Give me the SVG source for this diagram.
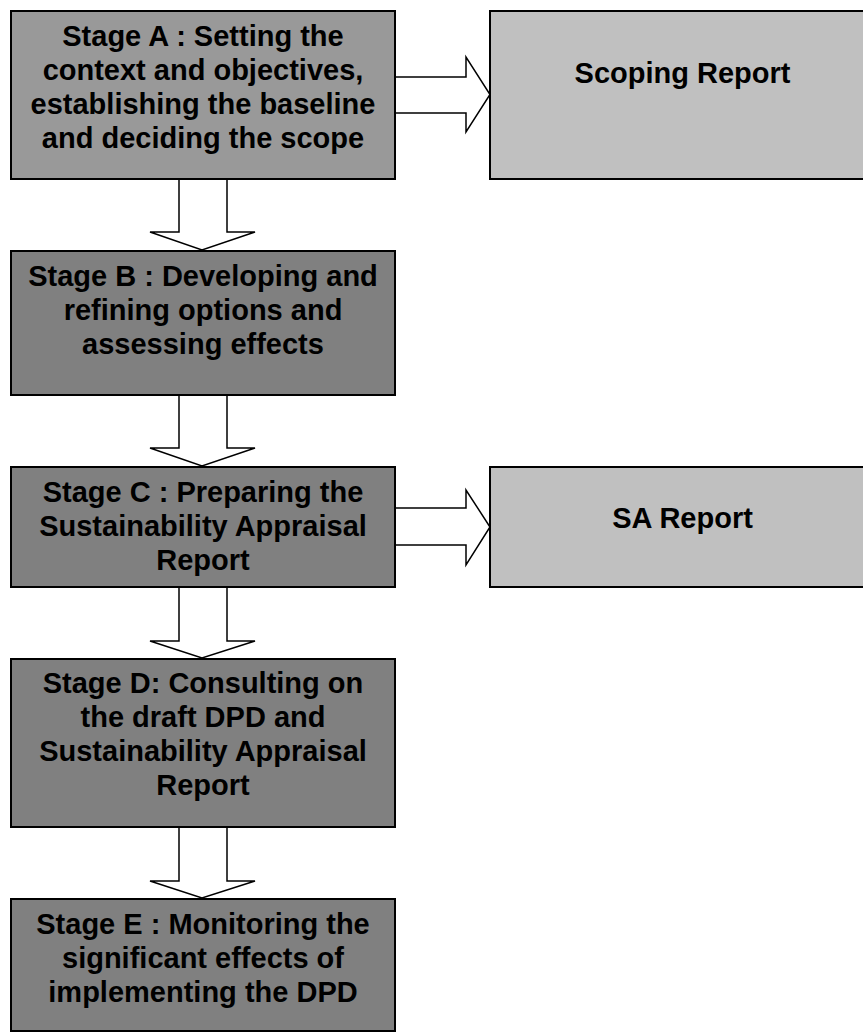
<svg xmlns="http://www.w3.org/2000/svg" width="863" height="1035" viewBox="0 0 863 1035">
<style>
.stage{fill:#808080;stroke:#000;stroke-width:2}
.stageA{fill:#999999;stroke:#000;stroke-width:2}
.report{fill:#c0c0c0;stroke:#000;stroke-width:2}
.arrow{fill:#fff;stroke:#000;stroke-width:1.5;stroke-linejoin:miter}
text{font-family:"Liberation Sans",Arial,sans-serif;font-weight:bold;font-size:29px;fill:#000;text-anchor:middle}
</style>
<rect x="0" y="0" width="863" height="1035" fill="#fff"/>
<g id="connectors">
<polygon class="arrow" points="179,179 227,179 227,232 255,232 202,250 150,232 179,232"/>
<polygon class="arrow" points="179,395 227,395 227,448 255,448 202,466 150,448 179,448"/>
<polygon class="arrow" points="179,587 227,587 227,641 255,641 202,658 150,641 179,641"/>
<polygon class="arrow" points="179,827 227,827 227,881 255,881 202,898 150,881 179,881"/>
<polygon class="arrow" points="395,77 466,77 466,57 490,94.5 466,132 466,113 395,113"/>
<polygon class="arrow" points="395,508 466,508 466,490 490,527 466,565 466,545 395,545"/>
</g>
<g id="stageA">
<rect class="stageA" x="11" y="11" width="384" height="168"/>
<text x="203" y="46">Stage A : Setting the</text>
<text x="203" y="80">context and objectives,</text>
<text x="203" y="114">establishing the baseline</text>
<text x="203" y="148">and deciding the scope</text>
</g>
<g id="scoping">
<rect class="report" x="490" y="11" width="385" height="168"/>
<text x="682.5" y="83">Scoping Report</text>
</g>
<g id="stageB">
<rect class="stage" x="11" y="251" width="384" height="144"/>
<text x="203" y="286">Stage B : Developing and</text>
<text x="203" y="320">refining options and</text>
<text x="203" y="354">assessing effects</text>
</g>
<g id="stageC">
<rect class="stage" x="11" y="467" width="384" height="120"/>
<text x="203" y="502">Stage C : Preparing the</text>
<text x="203" y="536">Sustainability Appraisal</text>
<text x="203" y="570">Report</text>
</g>
<g id="sareport">
<rect class="report" x="490" y="467" width="385" height="120"/>
<text x="682.5" y="528">SA Report</text>
</g>
<g id="stageD">
<rect class="stage" x="11" y="659" width="384" height="168"/>
<text x="203" y="693">Stage D: Consulting on</text>
<text x="203" y="727">the draft DPD and</text>
<text x="203" y="761">Sustainability Appraisal</text>
<text x="203" y="795">Report</text>
</g>
<g id="stageE">
<rect class="stage" x="11" y="899" width="384" height="132"/>
<text x="203" y="934">Stage E : Monitoring the</text>
<text x="203" y="968">significant effects of</text>
<text x="203" y="1002">implementing the DPD</text>
</g>
</svg>
